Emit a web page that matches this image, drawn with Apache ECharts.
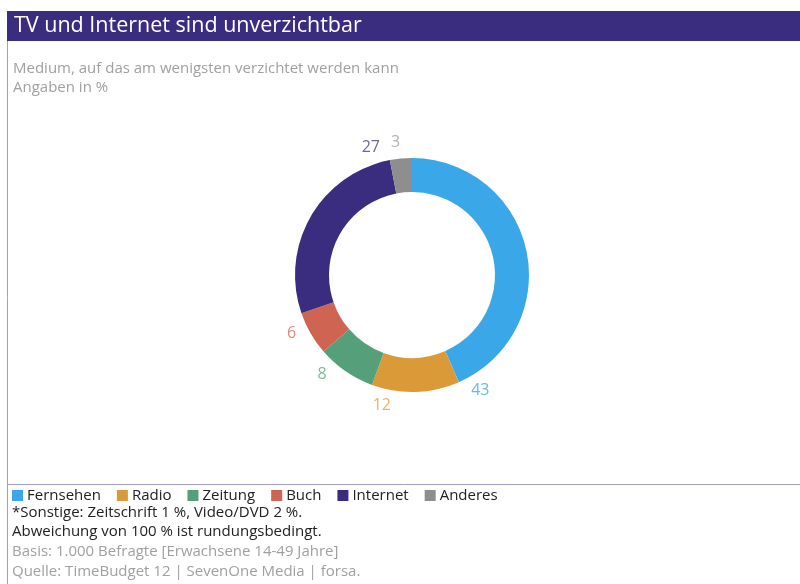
<!DOCTYPE html>
<html>
<head>
<meta charset="utf-8">
<script src="https://cdn.jsdelivr.net/npm/echarts@6/dist/echarts.min.js"></script>
<style>
html,body{margin:0;padding:0;background:#fff;}
#main{width:800px;height:584px;}
</style>
</head>
<body>
<div id="main"></div>
<script>
var categories = ['Fernsehen', 'Radio', 'Zeitung', 'Buch', 'Internet', 'Anderes'];
var values = [43, 12, 8, 6, 27, 3];
var colors = ['#3AA8E8', '#DB9A38', '#55A07B', '#CF6453', '#3A2D80', '#8E8E8E'];
var labelColors = ['#62BCEF', '#E6B46A', '#7DBA9B', '#E08778', '#6E64A6', '#B4B4B4'];
var titleText = 'TV und Internet sind unverzichtbar';
var subtitleLines = ['Medium, auf das am wenigsten verzichtet werden kann', 'Angaben in %'];
var footDark = ['*Sonstige: Zeitschrift 1 %, Video/DVD 2 %.', 'Abweichung von 100 % ist rundungsbedingt.'];
var footGrey = ['Basis: 1.000 Befragte [Erwachsene 14-49 Jahre]', 'Quelle: TimeBudget 12 | SevenOne Media | forsa.'];

var FONT = 'Open Sans';
var CX = 412, CY = 275, R_IN = 83, R_OUT = 117, R_LABEL = 134;
var total = values.reduce(function (a, b) { return a + b; }, 0);
var cum = [];
(function () { var s = 0; values.forEach(function (v) { s += v; cum.push(s); }); })();

var chart = echarts.init(document.getElementById('main'), null, { renderer: 'canvas' });
var data = categories.map(function (c, i) {
  return { name: c, value: values[i], itemStyle: { color: colors[i] }, label: { color: labelColors[i] } };
});

var graphics = [
  { type: 'rect', shape: { x: 7, y: 11, width: 793, height: 30 }, style: { fill: '#3A2D80' }, z: 1 },
  { type: 'line', shape: { x1: 7.5, y1: 11, x2: 7.5, y2: 584 }, style: { stroke: '#A29DC9', lineWidth: 1 } },
  { type: 'line', shape: { x1: 7, y1: 484.5, x2: 800, y2: 484.5 }, style: { stroke: '#A29DC9', lineWidth: 1 } },
  { type: 'text', left: 14, top: 15, style: { text: titleText, fill: '#fff', font: '21.5px "' + FONT + '"' }, z: 2 }
];
subtitleLines.forEach(function (t, i) {
  graphics.push({ type: 'text', left: 13, top: 61.5 + i * 19, style: { text: t, fill: '#A0A0A0', font: '15px "' + FONT + '"' } });
});
footDark.forEach(function (t, i) {
  graphics.push({ type: 'text', left: 12, top: 505 + i * 19.7, style: { text: t, fill: '#222', font: '15px "' + FONT + '"' } });
});
footGrey.forEach(function (t, i) {
  graphics.push({ type: 'text', left: 12, top: 544.5 + i * 19.7, style: { text: t, fill: '#A0A0A0', font: '15px "' + FONT + '"' } });
});

chart.setOption({
  animation: false,
  legend: {
    left: 12, top: 488, padding: 0, icon: 'rect', itemWidth: 11, itemHeight: 11, itemGap: 16,
    textStyle: { fontFamily: FONT, fontSize: 15, color: '#222', padding: [0, 0, 0, -1] },
    data: categories
  },
  graphic: graphics,
  series: [{
    type: 'pie',
    center: [CX, CY],
    radius: [R_IN, R_OUT],
    startAngle: 90,
    clockwise: true,
    silent: true,
    itemStyle: { borderWidth: 0 },
    label: { show: true, formatter: '{c}', fontFamily: FONT, fontSize: 16 },
    labelLine: { show: false },
    labelLayout: function (p) {
      var i = p.dataIndex;
      var ang = (cum[i] / total * 360 - 7) * Math.PI / 180;
      return {
        x: CX + R_LABEL * Math.sin(ang),
        y: CY - R_LABEL * Math.cos(ang),
        align: 'center', verticalAlign: 'middle'
      };
    },
    data: data
  }]
});
</script>
</body>
</html>
